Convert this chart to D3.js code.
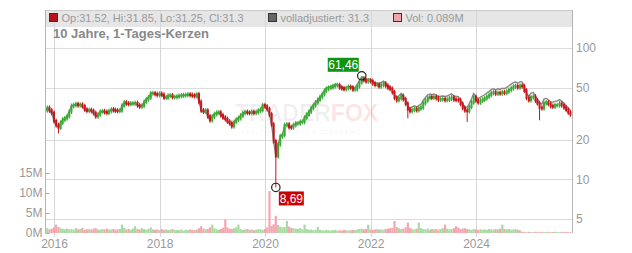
<!DOCTYPE html>
<html>
<head>
<meta charset="utf-8">
<script src="https://cdn.jsdelivr.net/npm/d3@7"></script>
<style>
body{margin:0;background:#fff;}
svg{font-family:"Liberation Sans",Arial,sans-serif;}
</style>
</head>
<body>
<svg id="chart" width="632" height="253"></svg>
<script>
// half-monthly candles, Nov 2015 - Oct 2025 (close prices)
const closes = [
  33.6,35.0,33.5,32.1,27.8,25.9,24.8,27.0,28.5,29.2,
  30.3,32.8,36.2,36.8,37.4,36.7,37.0,36.1,34.0,33.3,
  33.7,33.2,32.0,30.2,31.2,32.7,33.0,32.6,32.1,33.1,
  34.0,33.7,33.4,33.2,33.5,36.4,38.5,37.8,37.5,37.8,
  37.8,38.1,36.7,35.9,36.4,38.9,40.7,42.0,45.2,45.2,
  44.6,43.9,44.8,44.1,42.0,42.0,43.3,43.5,42.4,42.4,
  42.7,43.2,43.5,43.7,43.9,44.3,43.9,43.5,43.1,44.4,
  38.9,33.5,32.8,33.4,30.2,28.2,30.1,31.4,32.2,32.3,
  30.8,29.6,28.8,27.6,26.8,25.4,27.4,28.5,29.3,30.6,
  32.0,32.6,32.2,32.1,32.6,32.1,32.6,33.4,33.8,36.7,
  35.9,34.3,31.2,26.2,19.5,15.0,18.5,21.3,21.8,25.9,
  26.2,25.0,24.9,25.9,26.7,26.7,27.4,27.4,29.5,31.1,
  32.8,34.9,36.7,38.5,40.4,42.4,44.6,47.3,48.9,49.7,
  50.3,51.2,52.1,52.2,50.1,49.3,48.7,49.5,50.5,50.0,
  48.4,48.6,51.2,54.9,58.5,57.0,55.8,56.5,56.0,53.8,
  52.4,52.6,51.1,52.4,53.6,51.6,49.8,48.8,46.1,41.8,
  40.1,41.5,43.2,40.8,37.7,34.1,33.1,33.8,34.4,33.7,
  34.7,35.3,38.1,39.9,41.8,42.4,41.9,42.4,41.6,40.5,
  40.7,40.9,40.2,40.5,41.3,42.0,40.6,40.3,40.1,37.6,
  35.0,33.5,33.1,35.7,38.6,42.4,39.9,38.6,39.8,40.5,
  41.4,42.6,43.9,45.5,45.9,45.0,45.5,45.2,45.9,45.6,
  46.7,48.0,49.4,50.8,51.3,50.2,51.6,51.1,47.3,41.8,
  40.1,42.2,42.6,39.9,38.0,35.2,34.8,38.0,38.5,37.6,
  36.2,35.9,36.7,36.7,37.7,36.7,35.3,33.9,32.3,31.3
];
// volume in millions
const volumes = [
  1.0,1.2,0.9,1.1,1.4,2.1,1.5,1.2,1.0,0.9,
  1.1,0.9,1.0,0.8,1.2,0.9,1.0,1.3,0.8,0.9,
  1.0,0.8,1.1,1.2,0.9,0.8,1.0,0.9,1.1,0.8,
  0.9,1.0,0.8,0.9,1.0,2.1,1.3,0.9,1.0,0.8,
  1.1,1.7,1.0,0.9,1.2,1.0,0.8,1.1,1.4,0.9,
  0.8,0.9,0.7,1.0,0.8,0.9,0.7,0.8,1.0,0.7,
  0.8,0.7,0.9,0.6,0.8,0.7,0.9,0.8,0.7,0.9,
  1.2,1.7,1.1,0.9,1.0,1.4,2.1,1.2,0.9,0.8,
  1.0,1.3,3.4,1.4,1.1,1.0,1.2,1.4,2.1,1.0,
  0.8,0.9,1.0,0.8,0.9,0.7,0.8,1.0,0.9,0.8,
  1.0,1.4,10.5,1.8,2.2,4.3,2.0,1.6,1.4,1.5,
  3.0,1.6,1.3,1.2,1.1,1.0,1.2,0.9,2.1,1.0,
  0.8,0.9,0.7,0.8,1.5,0.8,0.7,0.6,0.8,0.7,
  0.6,0.7,0.8,0.6,0.7,0.6,0.8,0.7,0.6,0.7,
  0.8,0.7,0.9,1.0,1.1,0.9,1.0,2.1,0.9,0.8,
  0.9,1.0,0.8,0.9,0.8,1.0,1.1,1.2,1.3,3.0,
  1.5,1.2,1.0,1.1,1.4,2.6,1.3,1.0,0.9,1.1,
  2.6,1.2,1.0,0.9,1.1,0.8,1.0,0.9,1.0,0.8,
  1.0,1.2,2.1,1.1,0.9,1.0,1.2,1.7,1.4,1.0,
  1.1,1.2,1.0,0.9,0.8,1.0,0.9,0.8,0.9,0.8,
  0.9,0.8,1.0,0.9,0.8,1.0,0.9,1.1,2.1,1.0,
  0.9,1.0,0.8,0.9,1.0,0.8,0.7,0.3,0.2,0.2,
  0.3,0.2,0.2,0.3,0.2,0.2,0.3,0.2,0.2,0.3,
  0.2,0.2,0.3,0.2,0.2,0.3,0.2,0.2,0.2,0.2
];
// wick extremes [index, price]
const lowWicks = [[6,22.4],[105,8.69],[165,29.2],[192,27.4],[225,28.2]];
const highWicks = [[144,61.46]];
// "volladjustiert" factors, valid from date on
const adjDates = ["2021-03-01","2021-09-01","2022-03-01","2022-09-01","2023-06-01","2024-06-01"];
const adjFactors = [1.015,1.03,1.045,1.055,1.065,1.075];

const priceTicks = [5,10,20,50,100];
const volTicks = [0,5,10,15];
const yearTicks = [2016,2018,2020,2022,2024];
const legendItems = ["Op:31.52, Hi:31.85, Lo:31.25, Cl:31.3","volladjustiert: 31.3","Vol: 0.089M"];
const legendColors = ["#b3141b","#666666","#f2a4ac"];
const title = "10 Jahre, 1-Tages-Kerzen";

const L = 45, R = 572, T = 10, B = 233;
const svg = d3.select("#chart");

const x = d3.scaleTime().domain([new Date(2016,0,1), new Date(2024,0,1)]).range([54,476]);
const y = d3.scaleLog().domain([5,100]).range([219,48]);
const yv = d3.scaleLinear().domain([0,15]).range([B,173]);

const lowMap = new Map(lowWicks), highMap = new Map(highWicks);
const adj = adjDates.map((d,i)=>({date:d3.timeParse("%Y-%m-%d")(d), f:adjFactors[i]}));

const candles = closes.map((c,i)=>{
  const date = new Date(2015, 10 + Math.floor(i/2), i%2 ? 16 : 1);
  const o = i ? closes[i-1] : c;
  let h = Math.max(o,c), l = Math.min(o,c);
  if (highMap.has(i)) h = highMap.get(i);
  if (lowMap.has(i)) l = lowMap.get(i);
  let f = 1;
  adj.forEach(a => { if (date >= a.date) f = a.f; });
  return {i, date, o, c, h, l, v: volumes[i], adj: c*f, up: c >= o};
});

// header band
svg.append("rect").attr("x",L).attr("y",T).attr("width",R-L).attr("height",17)
  .attr("fill","#e6e6e6");

// gridlines
svg.append("g").selectAll("line").data(priceTicks).join("line")
  .attr("x1",L).attr("x2",R).attr("y1",d=>Math.round(y(d))+0.5).attr("y2",d=>Math.round(y(d))+0.5)
  .attr("stroke","#dcdcdc");
svg.append("g").selectAll("line").data(yearTicks).join("line")
  .attr("x1",d=>Math.round(x(new Date(d,0,1)))+0.5).attr("x2",d=>Math.round(x(new Date(d,0,1)))+0.5)
  .attr("y1",T).attr("y2",B+4)
  .attr("stroke","#d6d6d6");

// frame
svg.append("line").attr("x1",L).attr("x2",R).attr("y1",T+0.5).attr("y2",T+0.5).attr("stroke","#cccccc");
[L,R].forEach(px => svg.append("line").attr("x1",px+0.5).attr("x2",px+0.5)
  .attr("y1",T).attr("y2",B).attr("stroke","#b4b4b4"));

// watermark
const wm = svg.append("text").attr("x",235).attr("y",121)
  .style("font-size","23px").style("font-weight","bold");
wm.append("tspan").text("TRADER").attr("fill","#000").attr("fill-opacity",0.06);
wm.append("tspan").text("FOX").attr("fill","#e03030").attr("fill-opacity",0.15);
svg.append("text").attr("x",241).attr("y",134).text("REALTIME CHARTS & SCREENING")
  .style("font-size","5.5px").style("font-weight","bold").style("letter-spacing","1.1px")
  .attr("fill","#000").attr("fill-opacity",0.05);

svg.append("defs").append("clipPath").attr("id","plot")
  .append("rect").attr("x",L+1).attr("y",T).attr("width",R-L-1).attr("height",B-T);
const plot = svg.append("g").attr("clip-path","url(#plot)");

// volume
plot.append("g").selectAll("rect").data(candles).join("rect")
  .attr("x",d=>x(d.date)-1.1).attr("width",2.2)
  .attr("y",d=>yv(d.v)).attr("height",d=>B-yv(d.v))
  .attr("fill",d=>d.up ? "#a8dba2" : "#f4a7b0");

// adjusted line
plot.append("path").datum(candles)
  .attr("d",d3.line().x(d=>x(d.date)).y(d=>y(d.adj)))
  .attr("fill","none").attr("stroke","#888").attr("stroke-width",1.4);

// candles
const col = d => d.up ? "#3ba935" : "#c4161c";
const cg = plot.append("g").selectAll("g").data(candles).join("g");
cg.append("line")
  .attr("x1",d=>x(d.date)).attr("x2",d=>x(d.date))
  .attr("y1",d=>Math.min(y(d.h), y(Math.max(d.o,d.c))-2.5))
  .attr("y2",d=>Math.max(y(d.l), y(Math.min(d.o,d.c))+2.5))
  .attr("stroke",col).attr("stroke-width",1);
cg.append("rect")
  .attr("x",d=>x(d.date)-1).attr("width",2)
  .attr("y",d=>y(Math.max(d.o,d.c))-1.2)
  .attr("height",d=>y(Math.min(d.o,d.c))-y(Math.max(d.o,d.c))+2.4)
  .attr("fill",col);

// axes
const axisStyle = g => {
  g.select(".domain").remove();
  g.selectAll(".tick line").attr("stroke","#aaa");
  g.selectAll(".tick text").attr("fill","#999").style("font-size","12px")
    .style("font-family","'Liberation Sans',Arial,sans-serif");
};
svg.append("g").attr("transform",`translate(${R},0)`)
  .call(d3.axisRight(y).tickValues(priceTicks).tickFormat(d3.format("d")).tickSize(0).tickPadding(4))
  .call(axisStyle);
svg.append("g").attr("transform",`translate(${L+0.5},0)`)
  .call(d3.axisLeft(yv).tickValues(volTicks).tickFormat(d=>d+"M").tickSizeInner(-4).tickSizeOuter(0).tickPadding(3))
  .call(axisStyle);
svg.append("g").attr("transform",`translate(0,${B})`)
  .call(d3.axisBottom(x).tickValues(yearTicks.map(d=>new Date(d,0,1))).tickFormat(d3.timeFormat("%Y")).tickSize(0).tickPadding(6))
  .call(axisStyle);

// extreme markers
const fmt = v => v.toFixed(2).replace(".",",");
const hi = candles[highWicks[0][0]], lo = candles[lowWicks[1][0]];
function marker(cx, cy, txt, fill, bx, by, bw){
  svg.append("circle").attr("cx",cx).attr("cy",cy).attr("r",4.2)
    .attr("fill","none").attr("stroke","#222").attr("stroke-width",1.2);
  svg.append("rect").attr("x",bx).attr("y",by).attr("width",bw).attr("height",14).attr("fill",fill);
  svg.append("text").attr("x",bx+bw/2).attr("y",by+11.5).attr("text-anchor","middle")
    .attr("fill","#fff").style("font-size","12px").text(txt);
}
const hx = x(hi.date), hy = y(hi.h);
marker(hx, hy, fmt(hi.h), "#0f940f", hx-34, hy-18, 31);
const lx = x(lo.date), ly = y(lo.l);
marker(lx, ly, fmt(lo.l), "#cc0000", lx+3, ly+4, 25);

// header legend
let lxPos = [49.5, 268.5, 393.5];
legendItems.forEach((t,i)=>{
  svg.append("rect").attr("x",lxPos[i]).attr("y",13.5).attr("width",8).attr("height",8)
    .attr("fill",legendColors[i]).attr("stroke","#333");
  svg.append("text").attr("x",lxPos[i]+12).attr("y",22).text(t)
    .attr("fill","#999").style("font-size","11px");
});
svg.append("text").attr("x",53).attr("y",38).text(title)
  .attr("fill","#888").style("font-size","13px").style("font-weight","bold");
</script>
</body>
</html>
